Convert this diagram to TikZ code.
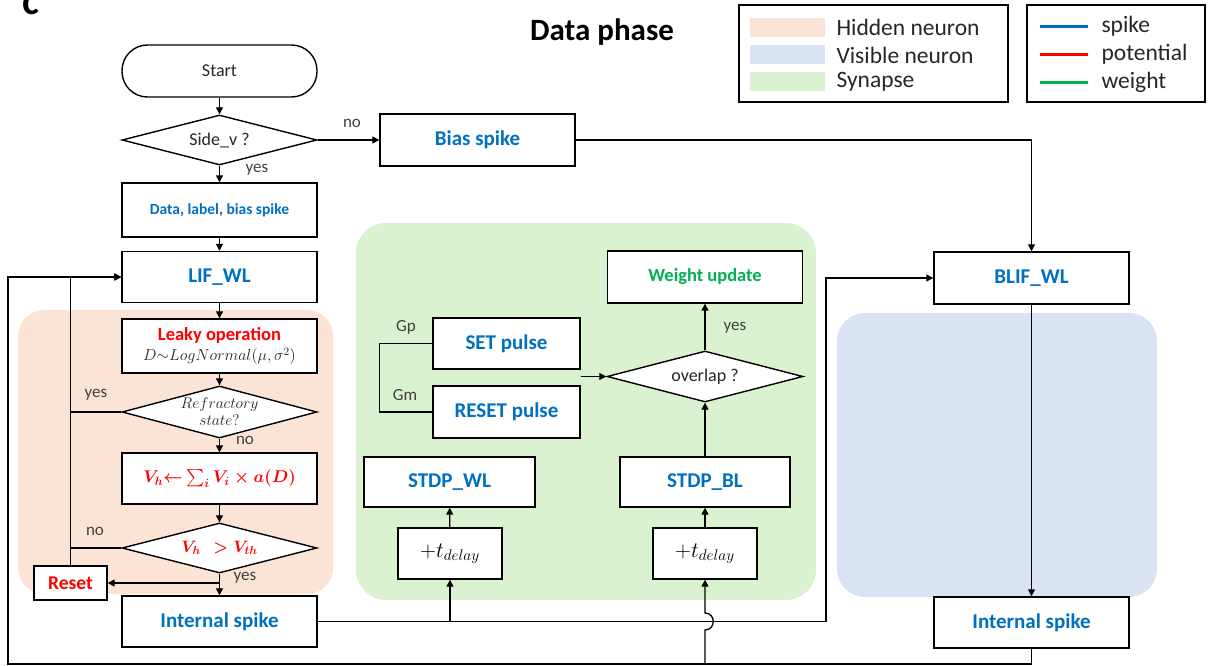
\RequirePackage{fix-cm}
\documentclass[tikz,border=0pt]{standalone}
\usepackage{amsmath}
\usepackage[no-math]{fontspec}
\setmainfont{Carlito}
\usetikzlibrary{arrows.meta,shapes.geometric}
\definecolor{sblue}{RGB}{0,112,192}
\definecolor{sred}{RGB}{255,0,0}
\definecolor{sgreen}{RGB}{0,176,80}
\definecolor{peach}{RGB}{251,227,214}
\definecolor{lgreen}{RGB}{218,242,208}
\definecolor{lblue}{RGB}{218,227,243}
\definecolor{txt}{RGB}{38,38,38}
\definecolor{lblc}{RGB}{64,64,64}
\newcommand{\fsz}[2]{\fontsize{#1}{#2}\selectfont}
\begin{document}
\begin{tikzpicture}[x=1pt,y=-1pt,
  box/.style={draw=black, line width=1.4pt, fill=white, minimum width=195pt, minimum height=52pt, inner sep=0pt, align=center},
  bl/.style={font=\fsz{21}{25}\bfseries, text=sblue},
  dia/.style={diamond, draw=black, line width=1.4pt, fill=white, aspect=3.9, inner sep=0pt, minimum width=195pt, minimum height=50pt},
  arr/.style={line width=1.3pt, -{Triangle[width=7pt,length=7pt]}},
  ln/.style={line width=1.3pt},
  lbl/.style={text=lblc, font=\fsz{17}{20}},
  dtxt/.style={text=txt, font=\fsz{18}{21}},
  legt/.style={text=txt, font=\fsz{23.5}{27}, anchor=west}
]
\useasboundingbox (0,0) rectangle (1210,666);

% background regions
\fill[peach, rounded corners=26pt] (18,310) rectangle (333,594);
\fill[lgreen, rounded corners=30pt] (356,223) rectangle (816,600);
\fill[lblue, rounded corners=28pt] (837,313) rectangle (1157,597);

% titles
\node[font=\fsz{40}{44}\bfseries, anchor=base west] (lc) at (19,15) {c};
\node[font=\fsz{31}{36}\bfseries, text=black] (title) at (602,32) {Data phase};

% legend 1
\node[draw=black, line width=1.3pt, minimum width=269pt, minimum height=97pt, inner sep=0pt] (leg1) at (873.5,53.5) {};
\fill[peach] (750,18) rectangle (825,37);
\fill[lblue] (750,45) rectangle (825,64);
\fill[lgreen] (750,72) rectangle (825,91);
\node[legt] (l1) at (833,27) {Hidden neuron};
\node[legt] (l2) at (833,55) {Visible neuron};
\node[legt] (l3) at (833,82) {Synapse};
% legend 2
\node[draw=black, line width=1.3pt, minimum width=178pt, minimum height=97pt, inner sep=0pt] (leg2) at (1116,53.5) {};
\draw[line width=3pt, sblue] (1040,27) -- (1088,27);
\draw[line width=3pt, sred] (1040,55) -- (1088,55);
\draw[line width=3pt, sgreen] (1040,83) -- (1088,83);
\node[legt] (m1) at (1098,26) {spike};
\node[legt] (m2) at (1098,54) {potential};
\node[legt] (m3) at (1098,82) {weight};

% left column
\node[draw=black, line width=1.4pt, fill=white, rounded corners=25.5pt, minimum width=195pt, minimum height=52pt, inner sep=0pt, dtxt] (start) at (219.5,71) {Start};
\node[dia] (side) at (219.5,140) {};
\node[dtxt] (sidet) at (219.5,140) {Side\_v ?};
\node[box, minimum height=54pt, font=\fsz{15.5}{18}\bfseries, text=sblue] (data) at (219.5,210) {Data, label, bias spike};
\node[box, minimum height=51pt, bl] (lif) at (219.5,277) {LIF\_WL};
\node[box, minimum height=54pt] (leaky) at (219.5,346) {{\fsz{18.5}{22}\bfseries\color{sred}Leaky operation}\\[4pt]{\fsz{16}{19}\color{txt}$D{\sim}LogNormal(\mu,\sigma^2)$}};
\node[dia, minimum height=52pt] (refr) at (219.5,412) {};
\node[text=txt, font=\fsz{15.5}{17}, align=center] (refrt) at (219.5,412) {$Refractory$\\$state?$};
\node[box, minimum height=51pt, text=sred, font=\fsz{17}{20}\boldmath] (vh) at (219.5,478.5) {$V_h{\leftarrow}\sum_i V_i \times a(D)$};
\node[dia] (cmp) at (219.5,548) {};
\node[text=sred, font=\fsz{16.5}{20}\boldmath] (cmpt) at (219.5,548) {$V_h\ \ > V_{th}$};
\node[box, minimum width=73pt, minimum height=34pt, font=\fsz{19.5}{23}\bfseries, text=sred] (reset) at (70.5,583) {Reset};
\node[box, minimum height=51pt, bl] (intL) at (219.5,621.5) {Internal spike};

% top right
\node[box, bl] (bias) at (477.5,140) {Bias spike};
\node[box, bl] (blif) at (1031.5,278) {BLIF\_WL};
\node[box, minimum height=51pt, bl] (intR) at (1031.5,622.5) {Internal spike};

% synapse
\node[box, font=\fsz{18.5}{22}\bfseries, text=sgreen] (wu) at (705,277) {Weight update};
\node[box, minimum width=147pt, minimum height=51pt, bl] (setp) at (506.5,343.5) {SET pulse};
\node[box, minimum width=147pt, minimum height=52pt, bl] (resetp) at (506.5,412) {RESET pulse};
\node[dia, minimum width=196pt, minimum height=51pt] (ovl) at (705,376.5) {};
\node[dtxt] (ovlt) at (705,376.5) {overlap ?};
\node[box, minimum width=171pt, minimum height=50pt, bl] (stdpwl) at (449.5,482) {STDP\_WL};
\node[box, minimum width=170pt, minimum height=50pt, bl] (stdpbl) at (705,482) {STDP\_BL};
\node[box, minimum width=104pt, minimum height=51pt, font=\fsz{22}{25}] (tdl) at (450,553.5) {$+t_{delay}$};
\node[box, minimum width=104pt, minimum height=51pt, font=\fsz{22}{25}] (tdr) at (705,553.5) {$+t_{delay}$};

% labels
\node[lbl] (y1) at (257,170) {yes};
\node[lbl] (n1) at (352,123) {no};
\node[lbl] (y2) at (96,395) {yes};
\node[lbl] (n2) at (245,440) {no};
\node[lbl] (n3) at (95,531) {no};
\node[lbl] (y3) at (245,578) {yes};
\node[lbl] (gp) at (406,327) {Gp};
\node[lbl] (gm) at (405,395) {Gm};
\node[lbl] (y4) at (735,328) {yes};

% connectors
\coordinate (bl) at (8,664);
\coordinate (cR) at (826,621.5);
\coordinate (brs) at (219.5,583);
\coordinate (hopA) at (705,630);
\coordinate (hopB) at (705,613);
\draw[arr] (start) -- (side);
\draw[arr] (side) -- (data);
\draw[arr] (side) -- (bias);
\draw[arr] (data) -- (lif);
\draw[arr] (lif) -- (leaky);
\draw[arr] (leaky) -- (refr);
\draw[arr] (refr) -- (vh);
\draw[arr] (vh) -- (cmp);
\draw[arr] (cmp) -- (intL);
\draw[arr] (brs) -- (reset.east);
\draw[ln] (refr.west) -- (refr.west -| reset.north);
\draw[ln] (cmp.west) -- (cmp.west -| reset.north);
\draw[arr] (reset.north) |- (lif.west);
\draw[arr] (intR.south) |- (bl) |- (lif.west);
\draw[arr] (intL.east) -- (cR) |- (blif.west);
\draw[arr] (bias.east) -| (blif.north);
\draw[arr] (blif) -- (intR);
\draw[arr] (tdl.south |- intL.east) -- (tdl.south);
\draw[arr] (tdr.south |- bl) -- (hopA) .. controls (716,630) and (716,613) .. (hopB) -- (tdr.south);
\draw[arr] (tdl) -- (stdpwl);
\draw[arr] (tdr) -- (stdpbl);
\draw[arr] (stdpbl) -- (ovl);
\draw[arr] (ovl) -- (wu);
\draw[ln] (setp.west) -- ++(-53,0) |- (resetp.west);
\draw[arr] (setp.east |- ovl.west) -- (ovl.west);
\end{tikzpicture}
\end{document}
